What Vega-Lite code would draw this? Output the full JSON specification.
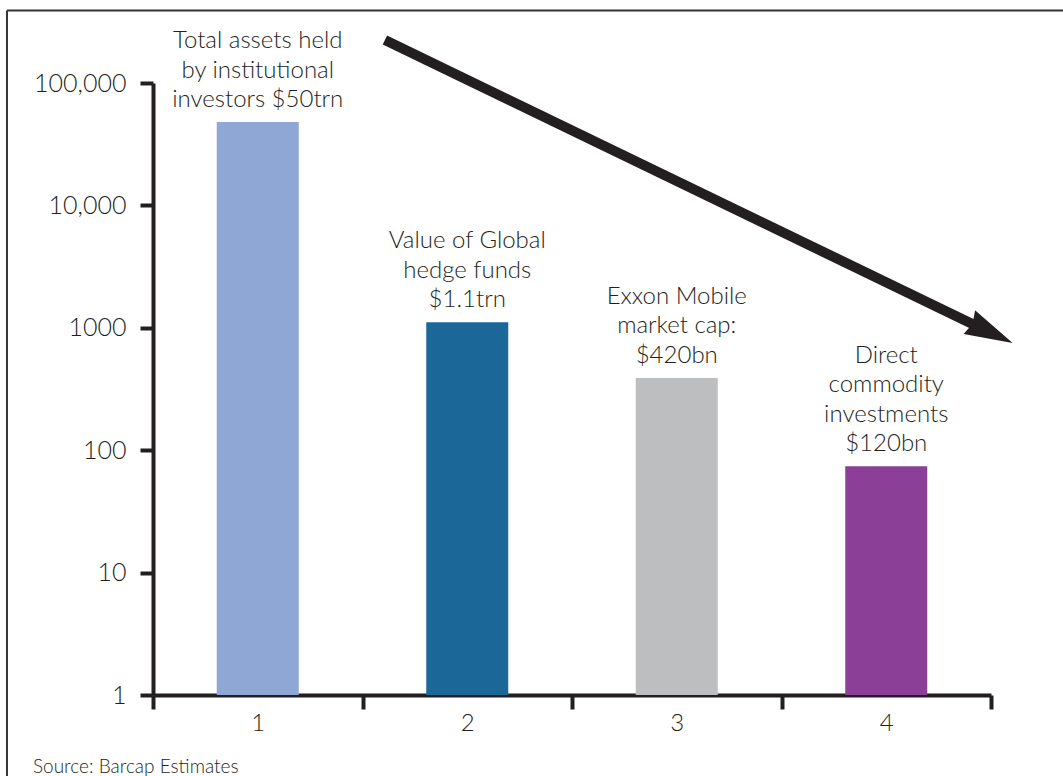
{
  "$schema": "https://vega.github.io/schema/vega-lite/v6.json",
  "width": 838,
  "height": 612,
  "autosize": {"type": "none"},
  "padding": {"left": 153, "top": 83, "right": 72, "bottom": 81},
  "background": "white",
  "config": {
    "view": {"stroke": null},
    "font": "Lato",
    "axis": {"grid": false, "labelColor": "#231f20", "domainColor": "#231f20", "tickColor": "#231f20", "labelFont": "Lato", "labelFontWeight": 300}
  },
  "datasets": {
    "bars": [
      {"cat": "1", "value": 48000, "lines": 3, "label": "Total assets held\nby institutional\ninvestors $50trn"},
      {"cat": "2", "value": 1110, "lines": 3, "label": "Value of Global\nhedge funds\n$1.1trn"},
      {"cat": "3", "value": 389, "lines": 3, "label": "Exxon Mobile\nmarket cap:\n$420bn"},
      {"cat": "4", "value": 74, "lines": 4, "label": "Direct\ncommodity\ninvestments\n$120bn"}
    ],
    "arrow": [
      {"ax": 1.107, "ay": 224600},
      {"ax": 4.0, "ay": 907}
    ],
    "head": [{"hx": 4.0, "hy": 914}],
    "frameTop": [{"fx": -0.697, "fx2": 6, "fy": 391000}],
    "frameLeft": [{"fx": -0.697, "fy": 391000, "fy2": 0.05}],
    "source": [{"sx": -0.573, "sy": 0.258, "text": "Source: Barcap Estimates"}]
  },
  "resolve": {"scale": {"x": "independent", "y": "independent"}},
  "layer": [
    {
      "data": {"name": "bars"},
      "layer": [
        {
          "mark": {"type": "bar", "width": 82},
          "encoding": {
            "x": {
              "field": "cat", "type": "ordinal",
              "scale": {"paddingInner": 0, "paddingOuter": 0},
              "axis": {"title": null, "labelAngle": 0, "tickBand": "extent", "domainWidth": 4, "tickWidth": 4, "tickSize": 14, "labelFontSize": 24, "labelPadding": 2}
            },
            "y": {
              "field": "value", "type": "quantitative",
              "scale": {"type": "log", "domain": [1, 100000], "nice": false},
              "axis": {"title": null, "values": [1, 10, 100, 1000, 10000, 100000], "labelExpr": "datum.value >= 10000 ? format(datum.value, ',') : format(datum.value, 'd')", "domainWidth": 4, "tickWidth": 4, "tickSize": 13, "labelFontSize": 25, "labelPadding": 14}
            },
            "y2": {"datum": 1},
            "color": {
              "field": "cat", "type": "nominal", "legend": null,
              "scale": {"domain": ["1", "2", "3", "4"], "range": ["#8FA7D4", "#1B6898", "#BDBEC0", "#8C3F96"]}
            }
          }
        },
        {
          "transform": [{"filter": "datum.lines == 3"}],
          "mark": {"type": "text", "align": "center", "baseline": "bottom", "dy": -69, "lineBreak": "\n", "lineHeight": 29.5, "fontSize": 24, "fontWeight": 300, "color": "#231f20"},
          "encoding": {
            "x": {"field": "cat", "type": "ordinal", "title": null},
            "y": {"field": "value", "type": "quantitative", "title": null, "scale": {"type": "log", "domain": [1, 100000], "nice": false}},
            "text": {"field": "label"}
          }
        },
        {
          "transform": [{"filter": "datum.lines == 4"}],
          "mark": {"type": "text", "align": "center", "baseline": "bottom", "dy": -98.5, "lineBreak": "\n", "lineHeight": 29.5, "fontSize": 24, "fontWeight": 300, "color": "#231f20"},
          "encoding": {
            "x": {"field": "cat", "type": "ordinal", "title": null},
            "y": {"field": "value", "type": "quantitative", "title": null, "scale": {"type": "log", "domain": [1, 100000], "nice": false}},
            "text": {"field": "label"}
          }
        }
      ]
    },
    {
      "layer": [
        {
          "data": {"name": "frameTop"},
          "mark": {"type": "rule", "color": "#333333", "strokeWidth": 2, "clip": false},
          "encoding": {
            "x": {"field": "fx", "type": "quantitative", "scale": {"domain": [0, 4], "nice": false, "zero": false}, "axis": null},
            "x2": {"field": "fx2"},
            "y": {"field": "fy", "type": "quantitative", "scale": {"type": "log", "domain": [1, 100000], "nice": false}, "axis": null}
          }
        },
        {
          "data": {"name": "frameLeft"},
          "mark": {"type": "rule", "color": "#333333", "strokeWidth": 2, "clip": false},
          "encoding": {
            "x": {"field": "fx", "type": "quantitative", "scale": {"domain": [0, 4], "nice": false, "zero": false}, "axis": null},
            "y": {"field": "fy", "type": "quantitative", "scale": {"type": "log", "domain": [1, 100000], "nice": false}, "axis": null},
            "y2": {"field": "fy2"}
          }
        },
        {
          "data": {"name": "arrow"},
          "mark": {"type": "line", "color": "#231f20", "strokeWidth": 10, "strokeCap": "butt", "clip": false},
          "encoding": {
            "x": {"field": "ax", "type": "quantitative", "scale": {"domain": [0, 4], "nice": false, "zero": false}, "axis": null},
            "y": {"field": "ay", "type": "quantitative", "scale": {"type": "log", "domain": [1, 100000], "nice": false}, "axis": null}
          }
        },
        {
          "data": {"name": "head"},
          "mark": {"type": "point", "shape": "M 1 0 L -1 -0.55 L -0.85 0 L -1 0.55 Z", "angle": 25.6, "size": 2304, "filled": true, "opacity": 1, "color": "#231f20", "clip": false},
          "encoding": {
            "x": {"field": "hx", "type": "quantitative", "scale": {"domain": [0, 4], "nice": false, "zero": false}, "axis": null},
            "y": {"field": "hy", "type": "quantitative", "scale": {"type": "log", "domain": [1, 100000], "nice": false}, "axis": null}
          }
        },
        {
          "data": {"name": "source"},
          "mark": {"type": "text", "align": "left", "baseline": "middle", "fontSize": 19, "fontWeight": 300, "color": "#231f20", "clip": false},
          "encoding": {
            "x": {"field": "sx", "type": "quantitative", "scale": {"domain": [0, 4], "nice": false, "zero": false}, "axis": null},
            "y": {"field": "sy", "type": "quantitative", "scale": {"type": "log", "domain": [1, 100000], "nice": false}, "axis": null},
            "text": {"field": "text"}
          }
        }
      ]
    }
  ]
}
